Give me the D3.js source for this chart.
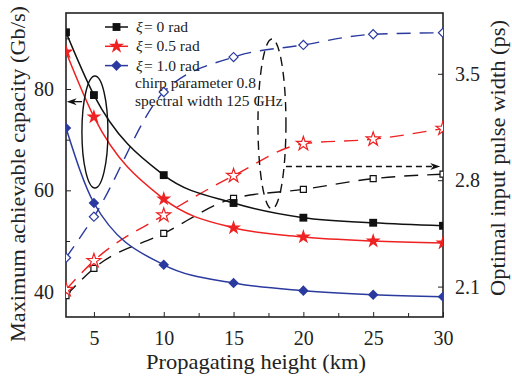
<!DOCTYPE html>
<html>
<head>
<meta charset="utf-8">
<script src="https://cdn.jsdelivr.net/npm/d3@7"></script>
</head>
<body style="margin:0">
<script>
// propagating height (km)
var heights = [3, 5, 10, 15, 20, 25, 30];
// maximum achievable capacity (Gb/s), left axis
var cap0 = [91.2, 78.8, 63, 57.5, 54.6, 53.6, 53];
var cap05 = [87.3, 74.5, 58.3, 52.6, 50.8, 50, 49.6];
var cap10 = [72.3, 57.5, 45.3, 41.7, 40.2, 39.4, 39];
// optimal input pulse width (ps), right axis
var pw0 = [2.04, 2.22, 2.45, 2.68, 2.74, 2.81, 2.84];
var pw05 = [2.08, 2.27, 2.57, 2.83, 3.04, 3.07, 3.14];
var pw10 = [2.29, 2.56, 3.38, 3.61, 3.69, 3.76, 3.77];

var xTicks = [5, 10, 15, 20, 25, 30];
var leftTicks = [40, 60, 80];
var rightTicks = [2.1, 2.8, 3.5];
var legendLabels = ["= 0 rad", "= 0.5 rad", "= 1.0 rad"];
var notes = ["chirp parameter 0.8", "spectral width 125 GHz"];

var width = 512, height = 378;
var plotLeft = 66, plotRight = 443, plotTop = 13, plotBottom = 317;

var svg = d3.select("body").append("svg")
    .attr("width", width)
    .attr("height", height);

var x = d3.scaleLinear().domain([3, 30]).range([plotLeft, plotRight]);
var yL = d3.scaleLinear().domain([35, 95]).range([plotBottom, plotTop]);
var yR = d3.scaleLinear().domain([1.9, 3.9]).range([plotBottom, plotTop]);

svg.append("clipPath").attr("id", "clip")
    .append("rect").attr("x", plotLeft).attr("y", plotTop)
    .attr("width", plotRight - plotLeft).attr("height", plotBottom - plotTop);

// axes - ticks point inward
var axes = [];
axes.push(svg.append("g").attr("transform", "translate(0," + plotBottom + ")")
    .call(d3.axisBottom(x).tickValues(xTicks).tickSize(-5).tickPadding(14).tickFormat(d3.format("d"))));
axes.push(svg.append("g").attr("transform", "translate(0," + plotBottom + ")")
    .call(d3.axisBottom(x).tickValues([7.5, 12.5, 17.5, 22.5, 27.5]).tickSize(-4).tickFormat("")));
axes.push(svg.append("g").attr("transform", "translate(" + plotLeft + ",0)")
    .call(d3.axisLeft(yL).tickValues(leftTicks).tickSize(-5).tickPadding(12).tickFormat(d3.format("d"))));
axes.push(svg.append("g").attr("transform", "translate(" + plotLeft + ",0)")
    .call(d3.axisLeft(yL).tickValues([50, 70, 90]).tickSize(-4).tickFormat("")));
axes.push(svg.append("g").attr("transform", "translate(" + plotRight + ",0)")
    .call(d3.axisRight(yR).tickValues(rightTicks).tickSize(-5).tickPadding(12).tickFormat(d3.format(".1f"))));

axes.forEach(function(a) {
    a.select(".domain").remove();
    a.selectAll(".tick line").attr("stroke", "#222");
    a.selectAll("text").attr("font-family", "Liberation Serif").attr("font-size", 20).attr("fill", "#222");
});

svg.append("rect").attr("x", plotLeft).attr("y", plotTop)
    .attr("width", plotRight - plotLeft).attr("height", plotBottom - plotTop)
    .attr("fill", "none").attr("stroke", "#222").attr("stroke-width", 1.6);

var colors = ["#111111", "#ee2222", "#2a3a9e"];
var shapes = ["square", "star", "diamond"];

function symbolPath(shape, hollow) {
    if (shape == "square") return d3.symbol().type(d3.symbolSquare).size(hollow ? 36 : 62)();
    if (shape == "star") return d3.symbol().type(d3.symbolStar).size(hollow ? 60 : 70)();
    return d3.symbol().type(d3.symbolSquare).size(hollow ? 42 : 56)();
}

var plot = svg.append("g").attr("clip-path", "url(#clip)");

var capSeries = [cap0, cap05, cap10];
var pwSeries = [pw0, pw05, pw10];

function pairs(vals) {
    return heights.map(function(d, i) { return [d, vals[i]]; });
}

// dashed pulse width curves with hollow markers
pwSeries.forEach(function(vals, k) {
    var line = d3.line()
        .x(function(d) { return x(d[0]); })
        .y(function(d) { return yR(d[1]); })
        .curve(d3.curveMonotoneX);
    plot.append("path")
        .datum(pairs(vals))
        .attr("d", line)
        .attr("fill", "none")
        .attr("stroke", colors[k])
        .attr("stroke-width", 1.4)
        .attr("stroke-dasharray", "14,9");
    plot.selectAll(null).data(pairs(vals)).enter().append("path")
        .attr("d", symbolPath(shapes[k], true))
        .attr("transform", function(d) {
            return "translate(" + x(d[0]) + "," + yR(d[1]) + ")" + (shapes[k] == "diamond" ? " rotate(45)" : "");
        })
        .attr("fill", "white")
        .attr("stroke", colors[k])
        .attr("stroke-width", 1.2);
});

// solid capacity curves with filled markers
capSeries.forEach(function(vals, k) {
    var line = d3.line()
        .x(function(d) { return x(d[0]); })
        .y(function(d) { return yL(d[1]); })
        .curve(d3.curveMonotoneX);
    plot.append("path")
        .datum(pairs(vals))
        .attr("d", line)
        .attr("fill", "none")
        .attr("stroke", colors[k])
        .attr("stroke-width", 1.5);
    plot.selectAll(null).data(pairs(vals)).enter().append("path")
        .attr("d", symbolPath(shapes[k], false))
        .attr("transform", function(d) {
            return "translate(" + x(d[0]) + "," + yL(d[1]) + ")" + (shapes[k] == "diamond" ? " rotate(45)" : "");
        })
        .attr("fill", colors[k]);
});

function arrowHead(px, py, dir) {
    // dir = -1 points left, 1 points right
    svg.append("path")
        .attr("d", "M" + px + "," + py + " l" + (-10 * dir) + ",-3.5 l" + (3 * dir) + ",3.5 l" + (-3 * dir) + ",3.5 Z")
        .attr("fill", "#111");
}

// ellipse + arrow pointing to left axis
svg.append("ellipse")
    .attr("cx", x(5) + 1).attr("cy", yL(71.5))
    .attr("rx", 13).attr("ry", 56)
    .attr("fill", "none").attr("stroke", "#111").attr("stroke-width", 1.4);
svg.append("line")
    .attr("x1", x(4.15)).attr("x2", x(3.05) + 4)
    .attr("y1", yL(77.5)).attr("y2", yL(77.5))
    .attr("stroke", "#111").attr("stroke-width", 1.3);
arrowHead(x(3.05), yL(77.5), -1);

// dashed ellipse + arrow pointing to right axis
svg.append("ellipse")
    .attr("cx", x(17.75)).attr("cy", yR(3.17))
    .attr("rx", 14).attr("ry", 85)
    .attr("fill", "none").attr("stroke", "#111").attr("stroke-width", 1.4)
    .attr("stroke-dasharray", "9,6");
svg.append("line")
    .attr("x1", x(18.75)).attr("x2", x(29.8) - 4)
    .attr("y1", yR(2.89)).attr("y2", yR(2.89))
    .attr("stroke", "#111").attr("stroke-width", 1.3)
    .attr("stroke-dasharray", "6,4");
arrowHead(x(29.8), yR(2.89), 1);

// legend marks
legendLabels.forEach(function(lab, k) {
    var ly = 27 + k * 19.3;
    svg.append("line").attr("x1", 105).attr("x2", 128).attr("y1", ly).attr("y2", ly)
        .attr("stroke", colors[k]).attr("stroke-width", 1.5);
    svg.append("path").attr("d", symbolPath(shapes[k], false))
        .attr("transform", "translate(116.5," + ly + ")" + (shapes[k] == "diamond" ? " rotate(45)" : ""))
        .attr("fill", colors[k]);
});

// all texts last
legendLabels.forEach(function(lab, k) {
    var ly = 32 + k * 19.3;
    svg.append("text").attr("x", 136).attr("y", ly)
        .attr("font-family", "Liberation Serif").attr("font-size", 15.5)
        .attr("font-style", "italic").attr("fill", "#222").text("ξ");
    svg.append("text").attr("x", 144).attr("y", ly)
        .attr("font-family", "Liberation Serif").attr("font-size", 15.5)
        .attr("fill", "#222").text(lab);
});
notes.forEach(function(n, i) {
    svg.append("text").attr("x", 135).attr("y", 88 + i * 18)
        .attr("font-family", "Liberation Serif").attr("font-size", 15.5)
        .attr("fill", "#222").text(n);
});

svg.append("text")
    .attr("x", 256).attr("y", 369)
    .attr("text-anchor", "middle").attr("font-size", 21)
    .attr("font-family", "Liberation Serif").attr("fill", "#222")
    .attr("textLength", 220).attr("lengthAdjust", "spacingAndGlyphs")
    .text("Propagating height (km)");
svg.append("text")
    .attr("transform", "translate(25,174) rotate(-90)")
    .attr("text-anchor", "middle").attr("font-size", 21)
    .attr("font-family", "Liberation Serif").attr("fill", "#222")
    .attr("textLength", 336).attr("lengthAdjust", "spacingAndGlyphs")
    .text("Maximum achievable capacity (Gb/s)");
svg.append("text")
    .attr("transform", "translate(505,158) rotate(-90)")
    .attr("text-anchor", "middle").attr("font-size", 21)
    .attr("font-family", "Liberation Serif").attr("fill", "#222")
    .attr("textLength", 276).attr("lengthAdjust", "spacingAndGlyphs")
    .text("Optimal input pulse width (ps)");
</script>
</body>
</html>
